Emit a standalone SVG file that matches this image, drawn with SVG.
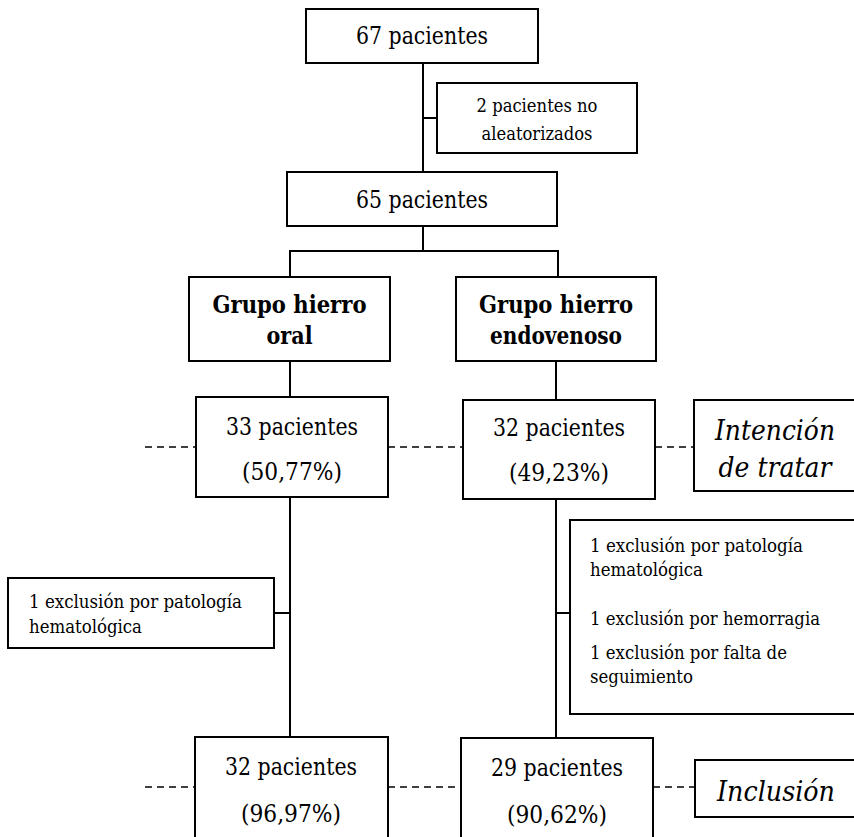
<svg xmlns="http://www.w3.org/2000/svg" width="854" height="837" viewBox="0 0 854 837">
<style>
  .box{fill:#fff;stroke:#000;stroke-width:2}
  .ln{fill:none;stroke:#000;stroke-width:2}
  .dash{fill:none;stroke:#000;stroke-width:1.6;stroke-dasharray:7 5}
  text{font-family:"DejaVu Serif",serif;fill:#000}
  .big{font-size:23.5px;text-anchor:middle}
  .bold{font-size:23.5px;font-weight:bold;text-anchor:middle}
  .sm{font-size:18px}
  .smc{font-size:18px;text-anchor:middle}
  .it{font-size:27.5px;font-style:italic;text-anchor:middle}
</style>
<rect width="854" height="837" fill="#fff"/>
<g id="connectors">
  <line class="ln" x1="423" y1="63" x2="423" y2="172"/>
  <line class="ln" x1="423" y1="118" x2="437" y2="118"/>
  <line class="ln" x1="423" y1="226" x2="423" y2="251"/>
  <polyline class="ln" points="290,277 290,251 558,251 558,277"/>
  <line class="ln" x1="290" y1="361" x2="290" y2="397"/>
  <line class="ln" x1="556" y1="361" x2="556" y2="400"/>
  <line class="ln" x1="290" y1="497" x2="290" y2="737"/>
  <line class="ln" x1="274" y1="613" x2="290" y2="613"/>
  <line class="ln" x1="556" y1="499" x2="556" y2="738"/>
  <line class="ln" x1="556" y1="613" x2="570" y2="613"/>
  <line class="dash" x1="145" y1="447" x2="196" y2="447"/>
  <line class="dash" x1="388" y1="447" x2="463" y2="447"/>
  <line class="dash" x1="655" y1="447" x2="694" y2="447"/>
  <line class="dash" x1="145" y1="787" x2="195" y2="787"/>
  <line class="dash" x1="388" y1="787" x2="461" y2="787"/>
  <line class="dash" x1="653" y1="787" x2="695" y2="787"/>
</g>
<g id="n67">
  <rect class="box" x="306" y="9" width="232" height="54"/>
  <text class="big" x="422" y="44" textLength="132" lengthAdjust="spacingAndGlyphs">67 pacientes</text>
</g>
<g id="noaleat">
  <rect class="box" x="437" y="83" width="200" height="70"/>
  <text class="smc" x="537" y="112" textLength="121" lengthAdjust="spacingAndGlyphs">2 pacientes no</text>
  <text class="smc" x="537" y="140" textLength="111" lengthAdjust="spacingAndGlyphs">aleatorizados</text>
</g>
<g id="n65">
  <rect class="box" x="287" y="172" width="270" height="54"/>
  <text class="big" x="422" y="208" textLength="132" lengthAdjust="spacingAndGlyphs">65 pacientes</text>
</g>
<g id="oral">
  <rect class="box" x="189" y="277" width="201" height="84"/>
  <text class="bold" x="289.5" y="313" textLength="154" lengthAdjust="spacingAndGlyphs">Grupo hierro</text>
  <text class="bold" x="289.5" y="344" textLength="46" lengthAdjust="spacingAndGlyphs">oral</text>
</g>
<g id="endo">
  <rect class="box" x="456" y="277" width="200" height="84"/>
  <text class="bold" x="556" y="313" textLength="154" lengthAdjust="spacingAndGlyphs">Grupo hierro</text>
  <text class="bold" x="556" y="344" textLength="132" lengthAdjust="spacingAndGlyphs">endovenoso</text>
</g>
<g id="n33">
  <rect class="box" x="196" y="397" width="192" height="100"/>
  <text class="big" x="292" y="435" textLength="132" lengthAdjust="spacingAndGlyphs">33 pacientes</text>
  <text class="big" x="292" y="480" textLength="100" lengthAdjust="spacingAndGlyphs">(50,77%)</text>
</g>
<g id="n32a">
  <rect class="box" x="463" y="400" width="192" height="99"/>
  <text class="big" x="559" y="436" textLength="132" lengthAdjust="spacingAndGlyphs">32 pacientes</text>
  <text class="big" x="559" y="481" textLength="100" lengthAdjust="spacingAndGlyphs">(49,23%)</text>
</g>
<g id="itt">
  <rect class="box" x="694" y="400" width="164" height="91"/>
  <text class="it" x="775" y="440" textLength="120" lengthAdjust="spacingAndGlyphs">Intención</text>
  <text class="it" x="775" y="477" textLength="113" lengthAdjust="spacingAndGlyphs">de tratar</text>
</g>
<g id="exclL">
  <rect class="box" x="8" y="578" width="266" height="70"/>
  <text class="sm" x="29" y="608" textLength="213" lengthAdjust="spacingAndGlyphs">1 exclusión por patología</text>
  <text class="sm" x="29" y="633" textLength="113" lengthAdjust="spacingAndGlyphs">hematológica</text>
</g>
<g id="exclR">
  <rect class="box" x="570" y="520" width="290" height="194"/>
  <text class="sm" x="590" y="552" textLength="213" lengthAdjust="spacingAndGlyphs">1 exclusión por patología</text>
  <text class="sm" x="590" y="576" textLength="113" lengthAdjust="spacingAndGlyphs">hematológica</text>
  <text class="sm" x="590" y="625" textLength="230" lengthAdjust="spacingAndGlyphs">1 exclusión por hemorragia</text>
  <text class="sm" x="590" y="659" textLength="197" lengthAdjust="spacingAndGlyphs">1 exclusión por falta de</text>
  <text class="sm" x="590" y="683" textLength="103" lengthAdjust="spacingAndGlyphs">seguimiento</text>
</g>
<g id="n32b">
  <rect class="box" x="195" y="737" width="193" height="110"/>
  <text class="big" x="291" y="775" textLength="132" lengthAdjust="spacingAndGlyphs">32 pacientes</text>
  <text class="big" x="291" y="822" textLength="100" lengthAdjust="spacingAndGlyphs">(96,97%)</text>
</g>
<g id="n29">
  <rect class="box" x="461" y="738" width="192" height="110"/>
  <text class="big" x="557" y="776" textLength="132" lengthAdjust="spacingAndGlyphs">29 pacientes</text>
  <text class="big" x="557" y="823" textLength="100" lengthAdjust="spacingAndGlyphs">(90,62%)</text>
</g>
<g id="incl">
  <rect class="box" x="695" y="760" width="165" height="57"/>
  <text class="it" x="776" y="801" textLength="118" lengthAdjust="spacingAndGlyphs">Inclusión</text>
</g>
</svg>
